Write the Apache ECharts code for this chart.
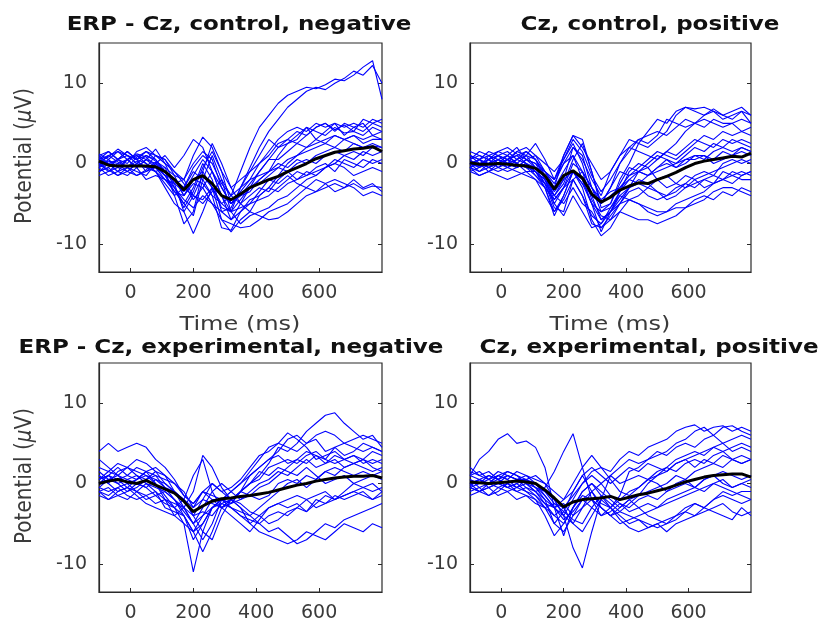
<!DOCTYPE html>
<html><head><meta charset="utf-8">
<script src="https://cdn.jsdelivr.net/npm/echarts@6/dist/echarts.min.js"></script>
<style>html,body{margin:0;padding:0;background:#fff}#c{width:822px;height:626px}</style>
</head><body><div id="c"></div>
<script>
const times = [-100,-70,-40,-10,20,50,80,110,140,170,200,230,260,290,320,350,380,410,440,470,500,530,560,590,620,650,680,710,740,770,800];
const xTicks = [0,200,400,600];
const yTicks = [-10,0,10];
const panelTitles = ['ERP - Cz, control, negative','Cz, control, positive','ERP - Cz, experimental, negative','Cz, experimental, positive'];
const xAxisName = 'Time (ms)';
const yAxisName = 'Potential ({i|μ}V)';

const ctrlNegTrials = [
[0.5,1,0.2,-0.5,0.8,1.5,0.5,-1,-2,-3,-1,-2,-4,-5,-4,-1,2,4.5,6,7.5,8.5,9,9.5,9.3,9.8,10.5,10.3,11,12,12.8,8],
[-0.5,0.5,1.5,1,0,-0.5,1,0.5,-1.5,-4,-2.5,-3,-5,-6,-5.5,-3,-0.5,2,4,5.5,7,8,9,9.5,9.2,10,10.6,11.5,11,12.2,10],
[1,0,-1,0.5,1.2,0.8,-0.3,-1.5,-3,-5,-3,0,-2,-6,-7,-5,-3,-1,0.5,2,3,4,3.5,4.5,5,4.2,4.8,4,5.5,5,5.5],
[-1,-0.5,0.5,1.5,0.5,-1,0,1,-0.5,1,3,2,-1,-4,-5,-4,-3.5,-2,-1,1,2.5,3,4.5,4,3.5,4.5,3.8,4,3.5,4.5,4],
[0,1,1.5,0.5,-0.5,0.5,1.8,0,-2.5,-6,-8.7,-6,-3,-7,-8.5,-7,-6,-4,-3,-1.5,0,1,2,2.5,3,3.5,3,3.5,2.5,3,3],
[-0.5,-1.5,-1,-0.5,-1.5,-1,-0.5,-2,-3.5,-5,-6.5,-2,1,-2,-6,-7.5,-6.5,-6,-5.5,-4.5,-4,-3,-2,-1.5,-0.5,0,1,1.5,1,2,1.5],
[1.2,0.5,-0.5,-1,0,1,0.5,-1,-4,-7.5,-6,-1,2.5,0,-3,-5,-6,-6.5,-7,-6.8,-6,-5,-4,-3.5,-3,-2.5,-3,-2.5,-3.2,-2.8,-3],
[0,-1,-0.5,0.5,1,0,-1,-2.5,-4,-3,-0.5,1,0,-2.5,-4,-3,-2,-1.5,-1,0,-0.5,0.5,0,1,1.5,2,1.5,2.5,2,2.2,2],
[-1,0,0.5,-0.5,-1,-1.5,0,-1,-2,-4,-2,-2.5,-4,-8,-8.3,-6,-4.5,-4,-3,-3.5,-2.5,-2,-1,-1.5,-0.5,0,-0.5,-1.5,-1,-0.5,-1],
[0.5,1.5,0.5,0,1.5,2,1,0,-1,-2,1,3.3,2,-1,-3,-2,-1,0,1,2.5,3,2.5,3.5,4.5,5,4,5,4.5,4,5,4.5],
[-0.5,0,-1,-1.5,-0.5,0.5,-0.5,-1.5,-2,-3,-4,-4.5,-3,-4,-6,-5.5,-5,-3.5,-2,-2.5,-1.5,-2.5,-3,-2,-2.5,-3.5,-3,-2,-3,-2.5,-3.5],
[0.8,-0.2,0.5,1.5,0.5,0,-1,-0.5,-3,-5.5,-3.5,-0.5,1.5,-1,-5,-4,-2.5,-1,0.5,0.5,1.5,2.5,2,3,2.5,3.5,3,3.5,3,3.5,3],
[-1.5,-1,0,0.5,-0.5,-2,-1.5,-2,-3,-4.5,-5.5,-4,-5,-7,-7.5,-8,-7.8,-7,-6,-5.5,-5,-4,-3,-3.5,-2.5,-2,-2.5,-3,-4,-3.5,-4],
[0.2,0.8,1.8,1,0.5,1,0.3,-0.5,-1.5,-2,0,1.5,0.5,-3,-5,-4,-3,-2.5,-1.5,-0.5,-1,0,0.5,0,1,1.5,1,0.5,1.5,1,1.5],
[0,-0.8,-1.5,-0.5,0.3,-0.5,-1,-3,-5,-6,-4,-1.5,-3,-5,-6,-3,-1,1,3,2,2.5,3.5,4.5,3,4,5,3.5,4.5,5,3.5,4],
[-0.3,0.3,0,-1,-1.5,-0.8,0.2,-1,-2.5,-2,-4,-5,-3.5,-2,-4,-5,-4,-3,-3.5,-2,-1,-2,-1.5,-0.5,0,-1,0.5,0,-0.5,0.5,0],
[0.5,0,-0.5,0.5,1,0.5,0,-1.5,-3.5,-4,-2,-1,-3,-5.5,-6,-4.5,-3,-2,-1,-0.5,0.5,1,1.5,2,2.5,2,3,2.5,2,2.5,2],
[-1,-0.5,-1.5,-1,0,-0.5,-1,-2,-2.5,-3.5,-1.5,0.5,-1,-4,-7,-6,-5,-4.5,-4,-3,-2,-1,-1.5,-1,-0.5,0.5,0,-0.5,0.5,0,0.5],
[1,1.5,0.5,1,0.5,1.5,1,0.5,-1,-2.5,-4.5,-3,-1,-3,-5,-3.5,-2,0,1.5,3,4,4.5,4,5,4.5,5,4.5,5,4.5,5.5,5]
];
const ctrlNegMean = [0.3,-0.2,-0.3,-0.3,-0.3,-0.3,-0.4,-1,-2,-3.3,-2,-1.5,-2.5,-4,-4.5,-3.8,-3,-2.5,-2,-1.6,-1,-0.5,0,0.6,1,1.4,1.6,1.8,1.9,2.1,1.5];

const ctrlPosTrials = [
[0.5,-0.5,1,0.5,0,1.5,1,2.5,0.5,-2,1,3.5,2,0,-2,-1,1,3,2.5,4,5.5,5,6.5,7,6.5,6,6.8,6,6.5,7,6],
[-0.5,0.5,0,1,1.5,0.5,0,-1,-2.5,-4,-2,2,1,-3,-6,-5,-2,0,2.5,2,3,4,6,7,6.8,7,6.5,6,5.5,6.5,5],
[1,0.5,-0.5,0,0.5,1.5,2,1,-1,-3,-1,1,-2,-5,-7,-6,-4.5,-3,-1,-0.5,0.5,1.5,2.5,4,5,4.5,5.5,5,5,4,4.5],
[0,-1,-0.5,0.5,-0.5,0,-0.5,-1.5,-3,-6.5,-4,-1,-3,-7,-9,-8,-6,-6.5,-7,-7,-7.5,-7,-6.5,-5.5,-5,-4.5,-3.5,-3,-3,-3.5,-4],
[-1,-0.5,0.5,1,0,-0.5,0.5,0,-2,-5,-3,0,-1,-4.5,-6.5,-7,-6,-4.5,-5,-5.5,-6,-6,-5.5,-5.5,-4.5,-4,-4.5,-3.5,-4,-3,-3.5],
[0.5,1.5,1,0,1,2,0.5,-0.5,-1.5,-3,1,3.5,3,-1,-5,-3,0,2,1.5,1,0.5,1.5,1,2,3,2.5,2,3,2.5,3,2.5],
[-0.5,0,0.5,-0.5,-1,-0.5,0,-1,-2,-4,-5,-3,-5,-6,-8,-7,-5,-3,-2.5,-3,-2,-1.5,-2.5,-3,-2,-1.5,-1,-0.5,0,0.5,0],
[0,0.5,-0.5,-1,-0.5,0.5,1,-0.5,-2.5,-5.5,-6,-2,-1,-3,-4.5,-3.5,-3,-1.5,-1,-1.5,-0.5,0,-0.5,0.5,1,0.5,1.5,2,1.5,2,1.5],
[0.3,-0.3,0.5,1,0.5,-0.5,0.5,1,0,-1,0.5,2.5,0,-4,-7,-6,-3.5,-1,0,-0.5,-2,-3,-2.5,-1.5,-2,-3,-2.5,-1,-1.5,-1,-1.5],
[-0.5,-1.5,-1,0,-0.5,-1,-1.5,-2,-4,-6,-4,-1,-2,-5,-8.5,-6,-4,-3,-2,-2.5,-3.5,-4,-3,-2.5,-1.5,-1,-1.5,0,0.5,0,0.5],
[1.5,1,0.5,1.5,1,0,1,0.5,-1,-2,0,1,-1,-3,-5,-3,-1,-1.5,-0.5,0.5,1.5,1,0.5,1.5,2.5,3.5,3,4,3.5,4,3.5],
[-1,-1.5,-1,-1.5,-2,-1.5,-1,-2,-3,-4.5,-3,-2,-4,-6.5,-7.5,-5.5,-4,-4.5,-5,-6,-6.5,-6,-5,-4.5,-4,-3.5,-2.5,-2,-2.5,-1.5,-1],
[0,0.5,1,1.5,2,1.2,0.5,0,-1,-2.5,0,2,0.5,-2,-4,-1,1,2,3,2.5,3.5,5.5,5,4.5,5,6,6.5,5.5,6,6.5,6],
[-0.5,0,-0.5,0,0.5,0,-1,-1,-2,-3.5,-2,-1,-2.5,-4,-5,-4,-3,-2,-1,-1.5,-1,-0.5,0,0.5,0.5,1,0,0.5,1,1.5,1],
[1,0,-1,-0.5,0.5,1,1.5,0.5,-1.5,-4,-2.5,0.5,2.5,-1,-5.5,-5,-2.5,-0.5,-1,0,1,0.5,-0.5,0,1,1,0.5,1.5,1,2,1.5],
[0,-0.5,0,0.5,0,-0.5,0,-1.5,-2.5,-5,-6.5,-4,-6,-8,-7.5,-6,-5,-4.5,-4,-3,-3.5,-4.5,-4,-3,-2.5,-2,-2.5,-2,-1.5,-2,-2],
[0.5,1,0.5,-0.5,0,0.5,1.5,0.5,-2,-4.5,-3,-1,-2.5,-5,-6,-5.5,-3.5,-2,-2.5,-1.5,-0.5,0.5,0,1,2,1.5,2.5,2,3,2.5,2],
[-0.5,-1,0,0.5,1,0,-0.5,-1,-3,-6,-4.5,-2,-4,-7.5,-8,-6.5,-5,-3.5,-3,-4,-4.5,-4,-3.5,-2.5,-3,-2,-1.5,-2,-1,-1.5,-1],
[1,0.5,1.5,1,0.5,1,0,-0.5,-1,-2,0.5,3,1.5,-1.5,-3.5,-2,0,1.5,3,3.5,4,3.5,4.5,5.5,5,5.5,5,4.5,5,5.5,5]
];
const ctrlPosMean = [0.1,-0.1,-0.1,0,-0.1,-0.2,-0.3,-0.6,-1.5,-3.2,-1.5,-0.9,-1.8,-3.8,-4.8,-4.2,-3.3,-2.8,-2.4,-2.5,-2,-1.6,-1.1,-0.5,0,0.3,0.5,0.7,0.9,0.8,1.3];

const expNegTrials = [
[4,5,4,4.5,5,4.5,3,2,0.5,-1.5,-2.5,-1,-2,-3,-2.5,-1,1,2,3,4,5.5,6,5,6,6.5,6,5,5.5,6,5.5,5],
[0.5,1,2,1,0.5,1.5,0,-1.5,-3,-5,-11,-6,-3,-2,-2.5,-1,0,1,2.5,4.5,4,5,6.5,7.5,8.5,8.8,7.5,6.5,5.5,6,4.5],
[-0.5,0.5,0,-1,-0.5,0.5,1,-0.5,-2,-4,-6,-8.5,-6,-3,-2,-3,-5,-6,-6.5,-7,-7.5,-7,-6,-6.5,-7,-6,-5,-5.5,-6,-5,-5.5],
[1,0,-1,-0.5,0.5,1,0,-2,-4,-3,-1,3.5,2,-0.5,-2,-1,0,0.5,2,2.5,3,2.5,3.5,4,3,4.5,5,4.5,4,4.5,4],
[-1,-1.5,-0.5,0,-1,-2,-1.5,-2.5,-3,-2,-4,-6,-7,-4,-2,-3,-4,-5,-6,-5.5,-6.5,-7.5,-7,-6,-5,-5.5,-4.5,-4,-3.5,-3,-2.5],
[0.5,1.5,1,0.5,0,-0.5,0.5,0,-1,-3,-5,-3,-1,0,-1,-2,-1.5,-0.5,0,1,2,3,2.5,3.5,3,2.5,3,3.5,2.5,3,2.5],
[2,1.5,2.5,2,1,0.5,1.5,1,-1,-2,1,3,-1,-3,-4,-5,-6,-4.5,-3,-2.5,-2,-1.5,-2,-3,-2.5,-2,-1.5,-1,-1.5,-2,-1],
[-1.5,-2,-1,-0.5,-1.5,-2.5,-3,-3.5,-4,-5,-6,-5,-3,-2,-3,-3.5,-4,-3,-2,-1,0,0.5,-0.5,0.5,1.5,1,2,2.5,2,1.5,2],
[0,0.5,0.5,-0.5,-1,0,-1,-2,-2.5,-3,-5,-7,-5,-2,-1,0,1,2,3,3.5,2.5,3,4,3.5,2.5,3.5,3,2.5,3,2,1.5],
[1,0,1.5,2,1.5,1,0.5,-0.5,-1,-2,-4,-2,-2.5,-3,-2,-2.5,-3.5,-4,-3,-2.5,-3,-2.5,-3.5,-2.5,-1.5,-2,-1,0,-0.5,0,-1],
[-0.5,-1,-0.5,-1.5,-2,-1.5,-1,-3,-3.5,-4,-6,-4,-2,-2,-3,-4,-4.5,-5,-4,-3.5,-4,-3,-2,-1.5,-1,-2,-1.5,-1,-0.5,-1,-0.5],
[0,1,0.5,1,2,1.5,1,0.5,0,-1,-3,-2,0,-1,-0.5,0.5,2,3.5,4,5,6.3,5.5,4.5,3,3.5,4,3,3.5,3,4,3.5],
[-1,-0.5,-1.5,-1,0,-0.5,-1.5,-1,-2,-3,-4,-3.5,-4,-2.5,-2,-1,-1.5,-2,-1.5,0,0.5,0,1,0.5,1.5,2,1.5,1,1.5,1,1.5],
[3,2,1,2,3,2.5,1.5,0,-1,-2,-3,-1,0,-1,-2,-1,0,1.5,1,2,1.5,1,2,1,0,0.5,1,0,0.5,1,0.5],
[0.5,1,0,0.5,1,0,-0.5,-1,-2,-3.5,-5,-4,-3,-2,-2.5,-2,-1,0,0.5,1.5,1,2,3,2,2.5,3,2,2.5,3,2.5,3],
[-1,-2,-1.5,-2,-1,-1.5,-2.5,-2,-3,-4,-7,-5,-3,-2.5,-3,-4,-5,-4,-5,-4.5,-3.5,-3,-3.5,-2,-2.5,-1.5,-2,-1.5,-1,-2,-1.5],
[1.5,0.5,1,0,0.5,1.5,2,1,0,-1.5,-2.5,-1,-1.5,-2,-1,0,1.5,3,4.5,5,4.5,4,5,5.5,4,4.5,3.5,4,5,4.5,4]
];
const expNegMean = [0,0.3,0.5,0.2,0,0.4,-0.2,-0.7,-1.2,-2.2,-3.5,-2.8,-2.2,-1.9,-1.8,-1.6,-1.5,-1.3,-1.1,-0.8,-0.5,-0.2,0,0.3,0.5,0.7,0.8,0.9,0.9,1,0.7];

const expPosTrials = [
[1,3,4,5.5,6.2,5,5.3,4.5,2,-3,-6.5,-3,-1,0,-1,-2,-3,-2,-1.5,0,1,2,1.5,2.5,3,2.5,3.5,4,3,3.5,3],
[0,0.5,-0.5,0,1,0.5,0,-1,-0.5,1.5,4,6.2,2,-2,-4,-3,-1.5,1.5,2,3,3.5,4,5,5.5,6.5,7,6,7,7.2,6.5,6],
[-0.5,-1,0,1,0.5,-0.5,-1,-2,-4,-6.5,-5,-3,-1,0,-1.5,-3,-4,-5,-4.5,-5.5,-5,-6,-5,-4.5,-4,-3.5,-3,-2.5,-3.5,-4,-3.5],
[1.5,1,0.5,1.5,1,0.5,1,0,-1.5,-3,-2,0,2,3.5,2,1.5,3,4,3.5,4.5,5,5.5,6.5,7,7.3,6.5,7,7.2,6.5,7,6.5],
[-1,-0.5,-1.5,-1,0,0.5,-0.5,-1,-2.5,-4,-3,-5,-6,-4,-2,-3,-4.5,-5.5,-6,-5.5,-5,-4.5,-4,-3.5,-2.5,-3,-2,-1,-1.5,-1,-1],
[0.5,0,1,0.5,1.5,1,0,-0.5,-1,-2,-4,-5,-3,-1,0,1,2,3,2.5,3,4,3.5,4.5,5,4.5,5.5,6,5,5.5,6,5.5],
[-0.3,0.5,0,-0.5,-1,-0.5,0.5,-0.5,-2,-5,-3.5,-1,1,-1,-3,-4,-3,-2,-3,-4,-4.5,-5,-4,-3,-2.5,-3,-2,-1.5,-2,-2.5,-2],
[0,-1,-1.5,-0.5,0,-1,-1.5,-2.5,-3,-2.5,-3.5,-4.5,-5,-3,-1.5,-2.5,-3.5,-4,-4.5,-5,-5.5,-5,-4.5,-3.5,-4,-3,-3.5,-4,-4.5,-3,-4],
[1,1.5,0.5,1,0.5,1.5,1,0.5,0,-1,-2,-1,1,2,1,0,1,2,1.5,2.5,2,1.5,2.5,3,2,3,2.5,3.5,3,2.5,3],
[-1.5,-1,-0.5,-1.5,-1,-2,-1.5,-2,-3,-4,-5,-3,-1.5,-2,-3,-4,-3.5,-2.5,-1.5,-1,-0.5,0,1,0.5,1.5,2,2.5,2,3,2.5,3],
[0.5,-0.5,0,0.5,1,0.5,0.5,1,0,-2,-4,-2,0,1.5,2,0.5,-1,-1.5,-0.5,0.5,0,-1,0,0.5,-0.5,0.5,1,0,-0.5,0,-0.5],
[2,1,1.5,0.5,-0.5,0,0.5,-0.5,-1.5,-3,-2.5,-4,-3,-2,-3,-4,-5,-4.5,-4,-3.5,-3,-2.5,-2,-1.5,-1,-0.5,0,-0.5,-1,-1.5,-2],
[-0.5,0,0.5,0,-0.5,0,-1,-1.5,-2.5,-3,-4,-8,-10.5,-6,-2,1,0,0.5,1,0.5,1,1.5,2.5,3,3.5,4,4.5,4,4.5,5,4.5],
[0,0.5,1,0.5,0,-0.5,0,-1,-2,-3,-4.5,-3.5,-2,-3,-4,-3.5,-2.5,-3,-2,-1.5,-2,-1,-0.5,0,-0.5,0.5,1,1.5,1,0.5,1],
[-0.5,-1,-0.5,0,-0.5,-1,-0.5,-1.5,-3,-5,-6,-4,-2,-1,-2.5,-3,-2,-1,-0.5,0.5,1.5,2,3,3.5,4,3.5,4.5,5,4,4.5,4],
[1,0.5,0,1,1.5,1,0.5,0,-1,-2.5,-3,-1.5,0,1,0,-1.5,-2.5,-3.5,-3,-2.5,-3,-2,-1.5,-1,-0.5,-1,0,0.5,-0.5,0,0.5]
];
const expPosMean = [0.2,0.1,0,0.1,0.2,0.3,0.2,0,-0.8,-1.8,-2.9,-2.3,-2,-1.9,-1.8,-1.6,-2,-1.7,-1.4,-1.2,-0.9,-0.6,-0.2,0.2,0.5,0.8,1,1.1,1.2,1.2,0.8];

// layout (positions only)
const layout = [
  {grid:{left:99, top:43, width:283, height:229}, tx:239, ty:25, xName:[240,325], yName:[25,156]},
  {grid:{left:470, top:43, width:281, height:229}, tx:650, ty:25, xName:[610,325], yName:null},
  {grid:{left:99, top:363, width:283, height:229}, tx:231, ty:348, xName:null, yName:[25,476]},
  {grid:{left:470, top:363, width:281, height:229}, tx:649, ty:348, xName:null, yName:null}
];
const panelData = [
  [ctrlNegTrials, ctrlNegMean],
  [ctrlPosTrials, ctrlPosMean],
  [expNegTrials, expNegMean],
  [expPosTrials, expPosMean]
];

const FONT = 'DejaVu Sans';
const txtColor = '#3a3a3a';
const axisColor = '#2a2a2a';
const grids = [], xAxes = [], yAxes = [], series = [], graphics = [];
layout.forEach((L, i) => {
  grids.push(Object.assign({show:true, borderColor:axisColor, borderWidth:1.2, backgroundColor:'#fff'}, L.grid));
  xAxes.push({
    type:'value', gridIndex:i, min:-100, max:800,
    axisLine:{show:true, onZero:false, lineStyle:{color:axisColor, width:1.2}},
    axisTick:{show:true, inside:true, length:4, customValues:xTicks, lineStyle:{color:axisColor}},
    axisLabel:{customValues:xTicks, color:txtColor, fontSize:19, fontFamily:FONT, margin:12},
    splitLine:{show:false}
  });
  yAxes.push({
    type:'value', gridIndex:i, min:-13.5, max:15,
    axisLine:{show:true, onZero:false, lineStyle:{color:axisColor, width:1.2}},
    axisTick:{show:true, inside:true, length:4, customValues:yTicks, lineStyle:{color:axisColor}},
    axisLabel:{customValues:yTicks, color:txtColor, fontSize:19, fontFamily:FONT, margin:12},
    splitLine:{show:false}
  });
  yAxes.push({
    type:'value', gridIndex:i, min:-13.5, max:15, position:'right',
    axisLine:{show:false, onZero:false},
    axisTick:{show:true, inside:true, length:4, customValues:yTicks, lineStyle:{color:axisColor}},
    axisLabel:{show:false}, splitLine:{show:false}
  });
  const [trials, mean] = panelData[i];
  trials.forEach(vals => {
    series.push({
      type:'line', xAxisIndex:i, yAxisIndex:i*2, showSymbol:false, symbol:'none', silent:true,
      lineStyle:{color:'#0000ff', width:1.1}, z:2,
      data: vals.map((v,k) => [times[k], v])
    });
  });
  series.push({
    type:'line', xAxisIndex:i, yAxisIndex:i*2, showSymbol:false, symbol:'none', silent:true,
    lineStyle:{color:'#000000', width:3}, z:3,
    data: mean.map((v,k) => [times[k], v])
  });
  graphics.push({
    type:'text', x:L.tx, y:L.ty, scaleX:1.21, z:10,
    style:{text:panelTitles[i], fill:'#111', font:'bold 19px "DejaVu Sans"', textAlign:'center', textVerticalAlign:'middle'}
  });
  if (L.xName) {
    graphics.push({
      type:'text', x:L.xName[0], y:L.xName[1], scaleX:1.2, z:10,
      style:{text:xAxisName, fill:txtColor, font:'20px "DejaVu Sans"', textAlign:'center', textVerticalAlign:'middle'}
    });
  }
  if (L.yName) {
    graphics.push({
      type:'text', x:L.yName[0], y:L.yName[1], rotation:Math.PI/2, scaleY:1.15, z:10,
      style:{text:yAxisName, fill:txtColor, font:'20px "DejaVu Sans"', textAlign:'center', textVerticalAlign:'middle',
             rich:{i:{fontStyle:'italic', fontSize:20, fontFamily:FONT, fill:txtColor}}}
    });
  }
});

const chart = echarts.init(document.getElementById('c'), null, {renderer:'canvas'});
chart.setOption({
  animation:false,
  backgroundColor:'#fff',
  grid:grids, xAxis:xAxes, yAxis:yAxes, series:series, graphic:graphics
});
</script>
</body></html>
